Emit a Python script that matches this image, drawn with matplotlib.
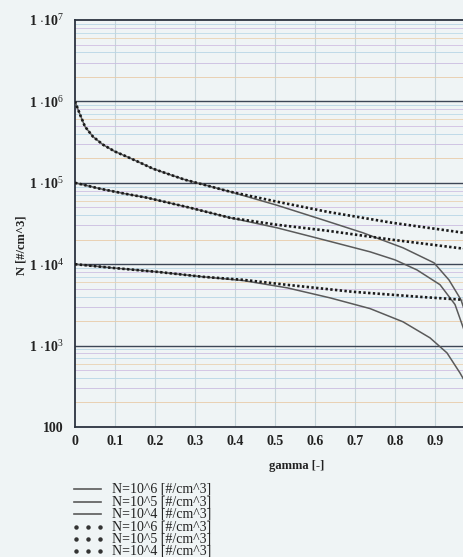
import math

import matplotlib
matplotlib.use("Agg")
import matplotlib.pyplot as plt
from matplotlib.lines import Line2D
from matplotlib.ticker import FixedLocator, FuncFormatter, NullLocator

# values (gamma [-], N [#/cm^3])
g_6_dot = [0, 0.0125, 0.025, 0.045, 0.07, 0.1, 0.13, 0.1625, 0.195, 0.2375,
           0.275, 0.3125, 0.3875, 0.505, 0.63, 0.7925, 0.9725, 1.0]
n_6_dot = [1e6, 6.9e5, 4.9e5, 3.69e5, 2.94e5, 2.42e5, 2.09e5, 1.77e5, 1.49e5, 1.26e5,
           1.09e5, 9.75e4, 7.78e4, 5.86e4, 4.41e4, 3.23e4, 2.43e4, 2.3e4]
g_6_sol = [0, 0.0125, 0.025, 0.045, 0.07, 0.1, 0.13, 0.1625, 0.195, 0.2375,
           0.275, 0.3125, 0.3875, 0.505, 0.6125, 0.72, 0.82, 0.8975, 0.935, 0.965,
           0.9775, 0.9875]
n_6_sol = [1e6, 6.9e5, 4.9e5, 3.69e5, 2.94e5, 2.42e5, 2.09e5, 1.77e5, 1.49e5, 1.26e5,
           1.09e5, 9.75e4, 7.78e4, 5.3e4, 3.6e4, 2.43e4, 1.59e4, 1.04e4, 6.4e3, 3.65e3,
           2.39e3, 1.36e3]

g_5_dot = [0, 0.0625, 0.125, 0.18, 0.2875, 0.3875, 0.505, 0.63, 0.7925, 0.9725, 1.0]
n_5_dot = [1e5, 8.46e4, 7.34e4, 6.56e4, 4.94e4, 3.72e4, 3.05e4, 2.58e4, 2.0e4, 1.55e4, 1.5e4]
g_5_sol = [0, 0.0625, 0.125, 0.18, 0.2875, 0.3875, 0.505, 0.6125, 0.7375, 0.8,
           0.855, 0.9125, 0.95, 0.9725, 0.9825]
n_5_sol = [1e5, 8.46e4, 7.34e4, 6.56e4, 4.94e4, 3.72e4, 2.8e4, 2.05e4, 1.42e4, 1.13e4,
           8.5e3, 5.6e3, 3.2e3, 1.56e3, 8.9e2]

g_4_dot = [0, 0.095, 0.205, 0.32, 0.42, 0.53, 0.695, 0.8625, 0.9725, 1.0]
n_4_dot = [1e4, 9.0e3, 8.06e3, 7.0e3, 6.43e3, 5.58e3, 4.58e3, 3.97e3, 3.65e3, 3.6e3]
g_4_sol = [0, 0.095, 0.205, 0.32, 0.42, 0.53, 0.6375, 0.7375, 0.82, 0.8875,
           0.93, 0.9625, 0.9725, 0.9825]
n_4_sol = [1e4, 9.0e3, 8.06e3, 7.0e3, 6.3e3, 5.13e3, 3.86e3, 2.85e3, 1.96e3, 1.245e3,
           813, 461, 378, 270]

legend_labels = ["N=10^6 [#/cm^3]", "N=10^5 [#/cm^3]", "N=10^4 [#/cm^3]",
                 "N=10^6 [#/cm^3]", "N=10^5 [#/cm^3]", "N=10^4 [#/cm^3]"]

x_ticks = [0, 0.1, 0.2, 0.3, 0.4, 0.5, 0.6, 0.7, 0.8, 0.9]
y_decades = [1e2, 1e3, 1e4, 1e5, 1e6, 1e7]

plt.rcParams["font.family"] = "Liberation Serif"
plt.rcParams["mathtext.fontset"] = "custom"
plt.rcParams["mathtext.rm"] = "Liberation Serif"
plt.rcParams["mathtext.it"] = "Liberation Serif:italic"
plt.rcParams["mathtext.bf"] = "Liberation Serif:bold"

W, H = 464, 557
bg = "#eff4f5"
fig = plt.figure(figsize=(W / 100, H / 100), dpi=100, facecolor=bg)
# plot area runs past the right edge of the scan (gamma = 1 is cut off)
ax = fig.add_axes([75 / W, 1 - 427 / H, 400 / W, 407 / H], facecolor=bg)

ax.set_xlim(0, 1)
ax.set_yscale("log")
ax.set_ylim(100, 1e7)

# grid: light verticals, dark decades, pastel minor lines
for xv in x_ticks[1:]:
    ax.axvline(xv, color="#c6d4da", lw=0.8, zorder=0)
minor_cols = ["#e8cba8", "#cbbde0", "#b8d6e6", "#d0bfe2", "#ead2b2", "#bcdae8", "#cec0e2", "#b8d4e4"]
for d in y_decades[:-1]:
    for i, m in enumerate(range(2, 10)):
        ax.axhline(d * m, color=minor_cols[i], lw=0.6, zorder=0)
for d in y_decades[1:-1]:
    ax.axhline(d, color="#3d4656", lw=1.0, zorder=1)

sol_kw = dict(color="#5a5a5a", lw=1.1, zorder=3)
dot_kw = dict(color="#1a1a1a", lw=1.9, linestyle=(0, (0.9, 0.9)), zorder=4)
ax.plot(g_6_sol, n_6_sol, **sol_kw)
ax.plot(g_5_sol, n_5_sol, **sol_kw)
ax.plot(g_4_sol, n_4_sol, **sol_kw)
ax.plot(g_6_dot, n_6_dot, **dot_kw)
ax.plot(g_5_dot, n_5_dot, **dot_kw)
ax.plot(g_4_dot, n_4_dot, **dot_kw)

for side in ("left", "top", "bottom"):
    ax.spines[side].set_color("#2c3340")
    ax.spines[side].set_linewidth(1.3)
ax.spines["right"].set_visible(False)

ax.xaxis.set_major_locator(FixedLocator(x_ticks))
ax.xaxis.set_major_formatter(FuncFormatter(lambda v, p: f"{v:g}"))
ax.yaxis.set_major_locator(FixedLocator(y_decades))
ax.yaxis.set_minor_locator(NullLocator())
ax.yaxis.set_major_formatter(FuncFormatter(
    lambda v, p: "100" if v < 500 else r"1 $\cdot$10$^{%d}$" % round(math.log10(v))))
ax.tick_params(axis="both", length=0, labelsize=10, colors="#222222")
ax.tick_params(axis="x", pad=6)
ax.tick_params(axis="y", pad=8)
for lab in ax.get_xticklabels() + ax.get_yticklabels():
    lab.set_fontweight("bold")

fig.text(297 / W, 1 - 466 / H, "gamma [-]", ha="center", va="center",
         fontsize=9, fontweight="bold", color="#222222")
fig.text(22 / W, 1 - 245 / H, "N [#/cm^3]", ha="center", va="center",
         rotation=90, fontsize=9, fontweight="bold", color="#222222")

# legend block under the plot
rows_y = [489, 502, 514, 527, 539, 551]
for k, (yy, lab) in enumerate(zip(rows_y, legend_labels)):
    fy = 1 - yy / H
    if k < 3:
        fig.add_artist(Line2D([74 / W, 101 / W], [fy, fy], color="#5a5a5a", lw=1.2))
    else:
        fig.add_artist(Line2D([76 / W, 88 / W, 100 / W], [fy, fy, fy], ls="none",
                              marker="o", ms=2.2, color="#333333"))
    fig.text(112 / W, fy, lab, ha="left", va="center", fontsize=10, color="#222222")

fig.savefig("out.png", dpi=100, facecolor=bg)
